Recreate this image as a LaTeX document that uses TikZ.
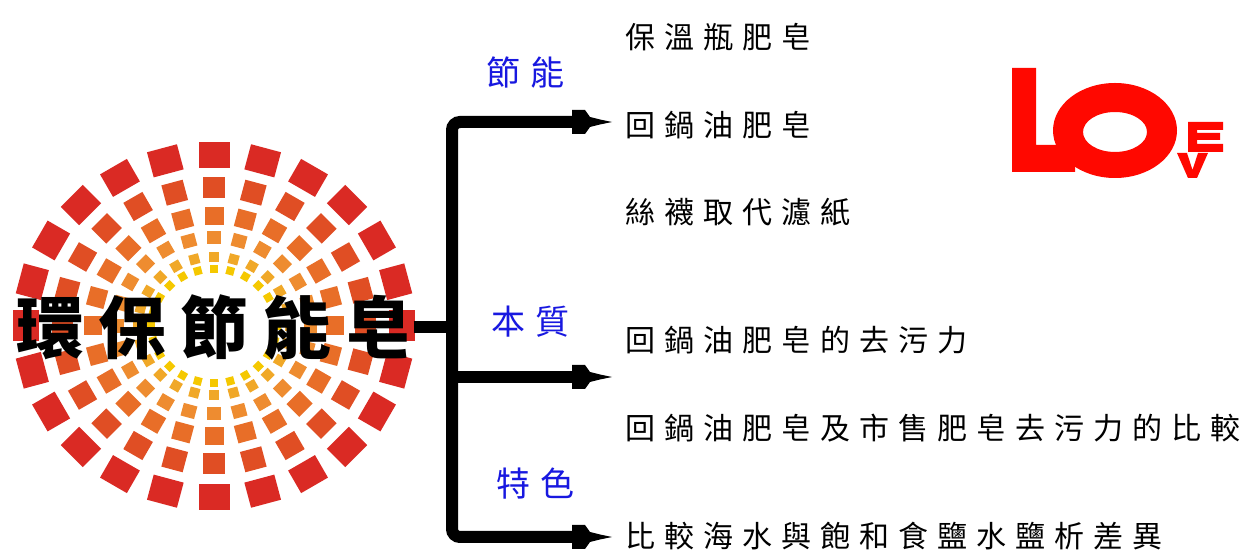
\documentclass[tikz,border=0pt]{standalone}
\usepackage{fontspec}
\newfontfamily\cjk{Noto Sans CJK TC}
\usetikzlibrary{arrows.meta}

% ring colours of the starburst, outside to inside
\definecolor{ringA}{HTML}{DA2A24}
\definecolor{ringB}{HTML}{E04E24}
\definecolor{ringC}{HTML}{E86E28}
\definecolor{ringD}{HTML}{EE8C30}
\definecolor{ringE}{HTML}{F0A828}
\definecolor{ringF}{HTML}{F5C800}
\definecolor{labelblue}{HTML}{1818E0}
\definecolor{logored}{HTML}{FF0800}

% arrow head with square barbs and a thin tapering point
\pgfdeclarearrow{
  name = Barb,
  setup code = {
    \pgfarrowssettipend{0pt}
    \pgfarrowssetlineend{-30pt}
    \pgfarrowssetbackend{-40pt}
    \pgfarrowsupperhullpoint{-40pt}{12pt}
    \pgfarrowsupperhullpoint{-27pt}{12pt}
    \pgfarrowsupperhullpoint{0pt}{0pt}
  },
  drawing code = {
    \pgfpathmoveto{\pgfqpoint{0pt}{0pt}}
    \pgfpathlineto{\pgfqpoint{-12pt}{2.5pt}}
    \pgfpathlineto{\pgfqpoint{-22pt}{5pt}}
    \pgfpathlineto{\pgfqpoint{-27pt}{12pt}}
    \pgfpathlineto{\pgfqpoint{-40pt}{12pt}}
    \pgfpathlineto{\pgfqpoint{-40pt}{-12pt}}
    \pgfpathlineto{\pgfqpoint{-27pt}{-12pt}}
    \pgfpathlineto{\pgfqpoint{-22pt}{-5pt}}
    \pgfpathlineto{\pgfqpoint{-12pt}{-2.5pt}}
    \pgfpathclose
    \pgfusepathqfill
  }
}

\tikzset{
  bar/.style={line width=12pt, black},
  item/.style={anchor=west, inner sep=0pt, text=black,
    font=\cjk\fontsize{30}{30}\selectfont\addfontfeatures{LetterSpace=30}},
  branch/.style={anchor=west, inner sep=0pt, text=labelblue,
    font=\cjk\fontsize{34}{34}\selectfont\addfontfeatures{LetterSpace=30}},
  headline/.style={anchor=west, inner sep=0pt, text=black,
    font=\cjk\bfseries\fontsize{68}{68}\selectfont\addfontfeatures{LetterSpace=21}},
  logo/.style={fill=logored},
}

\begin{document}
\begin{tikzpicture}[x=1pt,y=1pt]
\fill[white] (0,0) rectangle (1243,551);
\useasboundingbox (0,0) rectangle (1243,551);

% starburst of squares: six elliptical rings of 24 squares each
\foreach \ry/\ra/\rt/\col in {171/26/31/ringA, 138/21/22/ringB, 110/18/19/ringC,
                             88/13/14/ringD, 69/10/10/ringE, 57/8/8/ringF}{
  \foreach \k in {0,...,23}{
    \pgfmathsetmacro\ang{15*\k}
    \fill[\col, shift={({214+1.1*\ry*cos(\ang)},{225+\ry*sin(\ang)})}, rotate=\ang-90]
      (-\rt/2,-\ra/2) rectangle (\rt/2,\ra/2);
  }
}

% title
\node[headline] (title) at (16,224) {環保節能皂};

% branch connector
\coordinate (barx) at (452,0);
\coordinate (hub) at (title.east -| barx);
\coordinate (a1) at (612,429);
\coordinate (a2) at (612,174);
\coordinate (a3) at (612,14);
\draw[bar] (title.east) -- (hub);
\draw[bar, rounded corners=8pt, -Barb] (hub) |- (a1);
\draw[bar, -Barb] (hub) |- (a2);
\draw[bar, rounded corners=8pt, -Barb] (hub) |- (a3);

% branch labels
\node[branch] (b1) at (486,478) {節能};
\node[branch] (b2) at (491,229) {本質};
\node[branch] (b3) at (496,67) {特色};

% items
\node[item] (i1) at (625,514) {保溫瓶肥皂};
\node[item] (i2) at (625,426) {回鍋油肥皂};
\node[item] (i3) at (625,339) {絲襪取代濾紙};
\node[item] (i4) at (625,211) {回鍋油肥皂的去污力};
\node[item] (i5) at (625,123) {回鍋油肥皂及市售肥皂去污力的比較};
\node[item] (i6) at (625,15) {比較海水與飽和食鹽水鹽析差異};

% LOVE logo
\fill[logo] (1012,483) -- (1036,483) -- (1036,406) -- (1075,406) -- (1075,379) -- (1012,379) -- cycle;
\fill[logo, even odd rule] (1115,420.5) ellipse [x radius=62, y radius=47.5]
                           (1115,419) ellipse [x radius=32, y radius=20];
\fill[logo] (1188,429) -- (1223,429) -- (1223,421) -- (1197,421) -- (1197,418) -- (1220,418)
  -- (1220,411) -- (1197,411) -- (1197,407) -- (1223,407) -- (1223,399) -- (1188,399) -- cycle;
\fill[logo] (1177,398) -- (1187,398) -- (1192.5,381) -- (1198,398) -- (1208,398)
  -- (1197,373) -- (1188,373) -- cycle;
\end{tikzpicture}
\end{document}
